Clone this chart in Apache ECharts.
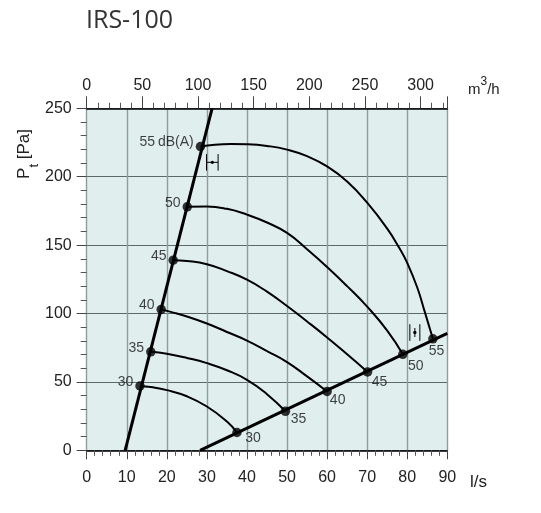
<!DOCTYPE html>
<html><head><meta charset="utf-8">
<script src="https://cdn.jsdelivr.net/npm/echarts@6/dist/echarts.min.js"></script>
<style>html,body{margin:0;padding:0;background:#fff}#c{width:541px;height:513px}</style>
</head><body><div id="c"></div>
<script>
// ---- data ----
const titleText = 'IRS-100';
const systemLeft = [[9.6, 0], [31.3, 250]];
const systemRight = [[28.3, 0], [90, 85.4]];
const curve30 = [[13.3,47],[16,46.2],[20,44],[25,39.5],[30,32],[35,21],[37.5,13]];
const curve35 = [[16,72],[20,70.5],[25,67.5],[30,63.7],[35,58.5],[40,51.5],[45,41],[49.6,28.5]];
const curve40 = [[18.6,103],[21,101.2],[25,97.8],[30,92.7],[35,86.5],[40,80.2],[45,72.5],[50,64.5],[55,54],[60,43]];
const curve45 = [[21.6,139],[25,138.4],[30,136],[35,131],[40,124.7],[45,116],[50,105.5],[55,94.2],[60,82.5],[65,70.2],[70.1,57.3]];
const curve50 = [[25.1,178],[30,178.2],[35,176.5],[40,172.3],[45,166.5],[50,158.9],[55,147],[60,134],[65,120],[70,105],[75,87.5],[78.9,70.2]];
const curve55 = [[28.4,222],[32,223.4],[36,223.9],[40,223.7],[45,222.5],[50,219.8],[55,215],[60,207.5],[65,196.5],[70,181],[75,162],[78,148],[80,137],[82.5,119],[84.4,101],[86.4,81.5]];
const startPoints = [[13.3,47],[16,72],[18.6,103],[21.6,139],[25.1,178],[28.4,222]];
const endPoints = [[37.5,13],[49.6,28.5],[60,43],[70.1,57.3],[78.9,70.2],[86.4,81.5]];
const startLabels = ['30','35','40','45','50','55\u2009dB(A)'];
const endLabels = ['30','35','40','45','50','55'];
const glyphPoints = [[31.35,210.5,0],[81.9,86.1,1]];
const lsMax = 90, lsInterval = 10;
const m3hMax = 324, m3hInterval = 50;
const paMax = 250, paInterval = 50;

// ---- chart ----
const FONT = '"Liberation Sans", Arial, sans-serif';
const curves = [curve30, curve35, curve40, curve45, curve50, curve55];
const endOffsets = [[3.5,6],[0.5,8],[-2,9],[-0.5,10.5],[0.5,12],[-9,12.4]];

const chart = echarts.init(document.getElementById('c'), null, {renderer:'canvas'});
const series = [];
curves.forEach(c => series.push({
  type:'line', data:c, showSymbol:false, smooth:0.5, silent:true, z:3,
  lineStyle:{color:'#000', width:2}
}));
series.push({type:'line', data:systemLeft, showSymbol:false, silent:true, z:4, lineStyle:{color:'#000', width:3}});
series.push({type:'line', data:systemRight, showSymbol:false, silent:true, z:4, lineStyle:{color:'#000', width:3}});
series.push({
  type:'scatter', symbolSize:9.5, z:6, silent:true, itemStyle:{color:'#000'},
  data: startPoints.map((p,i)=>({value:p, label:{show:true, formatter:startLabels[i], position:'left', distance:2, offset:[0,-4]}})),
  label:{color:'#111', fontSize:14, fontFamily:FONT}
});
series.push({
  type:'scatter', symbolSize:9.5, z:6, silent:true, itemStyle:{color:'#000'},
  data: endPoints.map((p,i)=>({value:p, label:{show:true, formatter:endLabels[i], position:'right', distance:0, align:'left', verticalAlign:'middle', offset:endOffsets[i]}})),
  label:{color:'#111', fontSize:14, fontFamily:FONT}
});
series.push({
  type:'custom', data:glyphPoints, z:5, silent:true, clip:false, encode:{x:0,y:1},
  renderItem:(params, api)=>{
    const c = api.coord([api.value(0), api.value(1)]);
    const kind = api.value(2);
    const w = kind === 0 ? 5.8 : 5, h = 8.3;
    const st = {stroke:'#000', lineWidth:1};
    const ch = [
      {type:'line', shape:{x1:c[0]-w,y1:c[1]-h,x2:c[0]-w,y2:c[1]+h}, style:st},
      {type:'line', shape:{x1:c[0]+w,y1:c[1]-h,x2:c[0]+w,y2:c[1]+h}, style:st}
    ];
    if (kind === 0) ch.push({type:'line', shape:{x1:c[0]-w,y1:c[1],x2:c[0]+w,y2:c[1]}, style:st});
    else ch.push({type:'line', shape:{x1:c[0],y1:c[1]-4.5,x2:c[0],y2:c[1]+4.5}, style:st});
    ch.push({type:'circle', shape:{cx:c[0],cy:c[1],r:1.7}, style:{fill:'#000'}});
    return {type:'group', children:ch};
  }
});

chart.setOption({
  animation:false,
  backgroundColor:'#fff',
  title:{text:titleText, left:81, top:3, textStyle:{fontFamily:'"Open Sans", sans-serif', fontSize:25, fontWeight:'normal', color:'#333'}},
  grid:{left:86.7, right:93.7, top:108.3, bottom:62.7, show:true, backgroundColor:'#e0eeee', borderWidth:0},
  xAxis:[{
    type:'value', position:'bottom', min:0, max:lsMax, interval:lsInterval,
    axisLine:{show:true, onZero:false, lineStyle:{color:'#000', width:1.5}},
    axisTick:{show:true, length:9, lineStyle:{color:'#444'}},
    minorTick:{show:true, splitNumber:5, length:5.5, lineStyle:{color:'#555'}},
    axisLabel:{fontSize:16, fontFamily:FONT, color:'#222', margin:19},
    splitLine:{show:true, lineStyle:{color:'#8f9d9d', width:1.4}}
  },{
    type:'value', position:'top', min:0, max:m3hMax, interval:m3hInterval,
    axisLine:{show:true, onZero:false, lineStyle:{color:'#000', width:1.5}},
    axisTick:{show:true, length:12, lineStyle:{color:'#444'}},
    minorTick:{show:true, splitNumber:5, length:5.5, lineStyle:{color:'#555'}},
    axisLabel:{fontSize:16, fontFamily:FONT, color:'#222', margin:15, showMaxLabel:false,
      formatter:v => (v % m3hInterval === 0 ? String(v) : '')},
    splitLine:{show:false}
  }],
  yAxis:{
    type:'value', min:0, max:paMax, interval:paInterval,
    axisLine:{show:true, onZero:false, lineStyle:{color:'#8f9d9d', width:1}},
    axisTick:{show:true, length:10, lineStyle:{color:'#444'}},
    minorTick:{show:true, splitNumber:5, length:6, lineStyle:{color:'#555'}},
    axisLabel:{fontSize:16, fontFamily:FONT, color:'#222', margin:15},
    splitLine:{show:true, lineStyle:{color:'#5d6868', width:1}}
  },
  graphic:[
    {type:'text', x:468, y:76, silent:true, style:{
      text:'{a|m}{s|3}{a|/h}', align:'left', verticalAlign:'top', fill:'#222',
      rich:{a:{fontSize:15, fontFamily:FONT, verticalAlign:'bottom', lineHeight:21.5, fill:'#222'},
            s:{fontSize:12, fontFamily:FONT, verticalAlign:'top', lineHeight:21.5, fill:'#222'}}}},
    {type:'text', x:470, y:482, silent:true, style:{
      text:'l/s', font:'17px "Liberation Sans", Arial, sans-serif', align:'left', verticalAlign:'middle', fill:'#222'}},
    {type:'text', x:28, y:154, rotation:Math.PI/2, silent:true, style:{
      text:'{p|P}{t|t}{p| [Pa]}', align:'center', verticalAlign:'middle', fill:'#222',
      rich:{p:{fontSize:17, fontFamily:FONT, verticalAlign:'top', lineHeight:17, fill:'#222'},
            t:{fontSize:13, fontFamily:FONT, verticalAlign:'bottom', lineHeight:25, fill:'#222'}}}}
  ],
  series
});
</script></body></html>
